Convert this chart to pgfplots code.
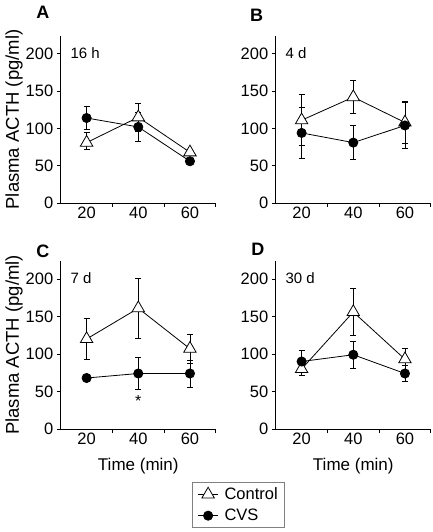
\documentclass[border=0pt]{standalone}
\usepackage{fontspec}
\setmainfont{Liberation Sans}
\usepackage{pgfplots}
\pgfplotsset{compat=1.18}
\begin{document}
\pgfplotsset{
  panel/.style={
    scale only axis, width=155pt, height=167pt,
    xmin=10, xmax=70, ymin=0, ymax=224,
    axis x line*=bottom, axis y line*=left,
    axis line style={-, line width=0.8pt},
    clip=false,
    /pgf/number format/assume math mode=true,
    tick label style={font=\fontsize{16.5}{18}\selectfont},
    tick align=outside, major tick length=4pt,
    tick style={line width=0.8pt, black},
    ytick={0,50,100,150,200},
    xtick={30,50,70}, xticklabels={,,},
    extra x ticks={20,40,60}, extra x tick labels={20,40,60},
    extra x tick style={major tick length=0pt},
    every axis y label/.style={at={(rel axis cs:-0.245,0.5)}, rotate=90, anchor=south, inner sep=0pt, font=\fontsize{18.5}{21}\selectfont},
    every axis x label/.style={at={(rel axis cs:0.5,-0.15)}, anchor=north, font=\fontsize{17}{19}\selectfont},
  },
  ctrl/.style={black, line width=0.8pt, mark=triangle*, mark size=7.2pt,
    mark options={fill=white, line width=0.8pt},
    error bars/.cd, y dir=both, y explicit,
    error bar style={line width=0.8pt, black},
    error mark options={rotate=90, mark size=3pt, line width=0.8pt}},
  cvs/.style={black, line width=0.8pt, mark=*, mark size=4.6pt,
    mark options={fill=black},
    error bars/.cd, y dir=both, y explicit,
    error bar style={line width=0.8pt, black},
    error mark options={rotate=90, mark size=3pt, line width=0.8pt}},
}
\begin{tikzpicture}
\useasboundingbox (0,0) rectangle (430pt,532pt);
% Panel A
\begin{axis}[panel, at={(58pt,329pt)}, anchor=south west, ylabel={Plasma ACTH (pg/ml)}]
\addplot[ctrl] coordinates {(20,81) += (0,14) -= (0,9) (40,115) +- (0,19) (60,68) +- (0,4)};
\addplot[cvs] coordinates {(20,114) +- (0,15) (40,102) +- (0,20) (60,56) +- (0,4)};
\node[font=\bfseries\fontsize{18}{20}\selectfont] at (rel axis cs:-0.116,1.144) {A};
\node[anchor=west, font=\fontsize{15}{17}\selectfont] at (rel axis cs:0.04,0.9) {16 h};
\end{axis}
% Panel B
\begin{axis}[panel, at={(273pt,329pt)}, anchor=south west]
\addplot[ctrl] coordinates {(20,111) +- (0,34) (40,142) +- (0,22) (60,108) +- (0,28)};
\addplot[cvs] coordinates {(20,94) +- (0,34) (40,81) +- (0,23) (60,104) +- (0,31)};
\node[font=\bfseries\fontsize{18}{20}\selectfont] at (rel axis cs:-0.123,1.126) {B};
\node[anchor=west, font=\fontsize{15}{17}\selectfont] at (rel axis cs:0.04,0.9) {4 d};
\end{axis}
% Panel C
\begin{axis}[panel, height=168pt, at={(58pt,103pt)}, anchor=south west,
  ylabel={Plasma ACTH (pg/ml)}, xlabel={Time (min)},
  legend style={at={(rel axis cs:1.148,-0.452)}, anchor=center, draw=gray, line width=0.8pt,
    font=\fontsize{16.5}{19}\selectfont, row sep=4pt, column sep=4pt, inner xsep=5pt, inner ysep=3.5pt},
  legend cell align=left,
  legend image code/.code={\draw[mark repeat=2, mark phase=2] plot coordinates {(0pt,0pt) (10pt,0pt) (20pt,0pt)};}]
\addplot[ctrl] coordinates {(20,120) +- (0,27) (40,161) +- (0,40) (60,107) +- (0,19)};
\addplot[cvs] coordinates {(20,68) +- (0,5) (40,74) +- (0,21) (60,74) +- (0,18)};
\legend{Control, CVS}
\node[font=\bfseries\fontsize{18}{20}\selectfont] at (rel axis cs:-0.116,1.06) {C};
\node[anchor=west, font=\fontsize{15}{17}\selectfont] at (rel axis cs:0.04,0.895) {7 d};
\node[font=\fontsize{16}{18}\selectfont] at (axis cs:40,38) {*};
\end{axis}
% Panel D
\begin{axis}[panel, height=168pt, at={(273pt,103pt)}, anchor=south west, xlabel={Time (min)}]
\addplot[ctrl] coordinates {(20,80) +- (0,9) (40,156) +- (0,31) (60,93) +- (0,15)};
\addplot[cvs] coordinates {(20,90) +- (0,15) (40,99) +- (0,18) (60,74) +- (0,11)};
\node[font=\bfseries\fontsize{18}{20}\selectfont] at (rel axis cs:-0.116,1.07) {D};
\node[anchor=west, font=\fontsize{15}{17}\selectfont] at (rel axis cs:0.04,0.895) {30 d};
\end{axis}
\end{tikzpicture}
\end{document}
